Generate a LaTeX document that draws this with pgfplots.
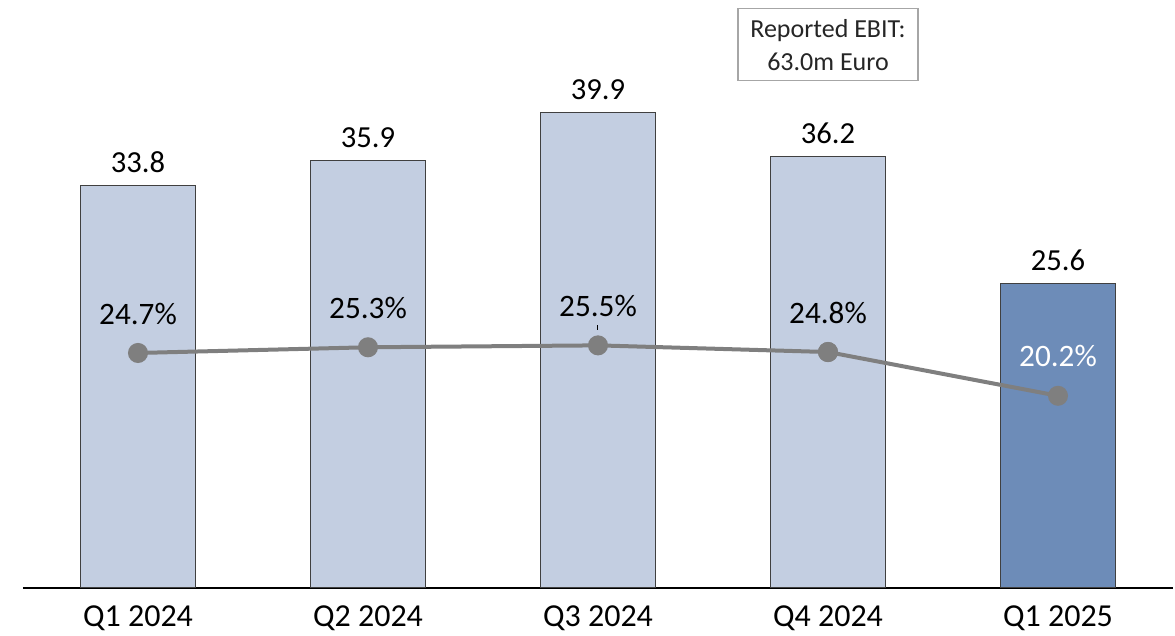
\documentclass[border=0pt]{standalone}
\usepackage{fontspec}
\setmainfont{Carlito}
\usepackage{pgfplots}
\pgfplotsset{compat=1.18}

\definecolor{barlight}{HTML}{C3CEE1}
\definecolor{bardark}{HTML}{6D8CB8}
\definecolor{baredge}{HTML}{404040}
\definecolor{linegray}{HTML}{7F7F7F}
\definecolor{boxedge}{HTML}{A6A6A6}

\begin{document}
\begin{tikzpicture}
% bars: EBIT in m Euro
\begin{axis}[
    scale only axis,
    width=575pt, height=294pt,
    xmin=-0.5, xmax=4.5,
    ymin=0, ymax=49.37,
    axis x line*=bottom,
    axis y line=none,
    x axis line style={black, line width=1pt},
    xtick={0,1,2,3,4},
    xticklabels={Q1 2024,Q2 2024,Q3 2024,Q4 2024,Q1 2025},
    major tick length=0pt,
    xticklabel style={font=\fontsize{16}{19}\selectfont, anchor=base, yshift=-19.5pt},
    ybar, bar width=57.5pt, bar shift=0pt,
    nodes near coords={\pgfmathprintnumber[fixed,fixed zerofill,precision=1]{\pgfplotspointmeta}},
    every node near coord/.append style={font=\fontsize{15.3}{18}\selectfont, anchor=base, yshift=6.5pt, inner sep=0pt},
    /pgf/number format/assume math mode=true,
    clip=false,
]
\addplot[fill=barlight, draw=baredge, line width=0.5pt]
    coordinates {(0,33.8) (1,35.9) (2,39.9) (3,36.2)};
\addplot[fill=bardark, draw=baredge, line width=0.5pt]
    coordinates {(4,25.6)};
\node[draw=boxedge, line width=0.6pt, fill=white, text=black!85,
      align=center, font=\fontsize{13}{16.5}\selectfont,
      minimum width=90pt, minimum height=36pt, inner sep=2pt]
    at (axis cs:3,45.6) {Reported EBIT:\\63.0m Euro};
\end{axis}
% line: EBIT margin in %
\begin{axis}[
    scale only axis,
    width=575pt, height=294pt,
    xmin=-0.5, xmax=4.5,
    ymin=0, ymax=61.8,
    hide axis,
    /pgf/number format/assume math mode=true,
    clip=false,
]
\addplot[color=linegray, line width=2pt, mark=*, mark size=4pt,
    mark options={fill=linegray, draw=linegray},
    nodes near coords={\pgfmathprintnumber[fixed,fixed zerofill,precision=1]{\pgfplotspointmeta}\%},
    every node near coord/.append style={font=\fontsize{15.6}{18}\selectfont, anchor=base, yshift=14.4pt, inner sep=0pt, text=black},
    ]
    coordinates {(0,24.7) (1,25.3) (2,25.5) (3,24.8)};
\addplot[color=linegray, line width=2pt, mark=*, mark size=4pt,
    mark options={fill=linegray, draw=linegray}]
    coordinates {(3,24.8) (4,20.2)};
\addplot[draw=none, mark=none,
    nodes near coords={\pgfmathprintnumber[fixed,fixed zerofill,precision=1]{\pgfplotspointmeta}\%},
    every node near coord/.append style={font=\fontsize{15.6}{18}\selectfont, anchor=base, yshift=14.4pt, inner sep=0pt, text=white},
    ]
    coordinates {(4,20.2)};
\draw[black, line width=0.5pt] (axis cs:2,27.15) -- (axis cs:2,27.6);
\end{axis}
\pgfresetboundingbox
\useasboundingbox (-11.5pt,-24pt) rectangle (576pt,294pt);
\end{tikzpicture}
\end{document}
